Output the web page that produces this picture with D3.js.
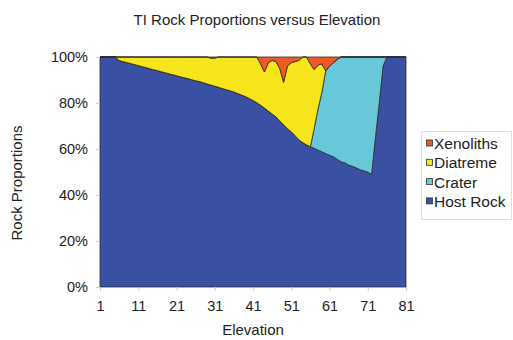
<!DOCTYPE html>
<html>
<head>
<meta charset="utf-8">
<script src="https://cdn.jsdelivr.net/npm/d3@7"></script>
<style>
  html, body { margin: 0; padding: 0; background: #fff; }
  svg { display: block; font-family: "Liberation Sans", Arial, sans-serif; }
</style>
</head>
<body>
<svg id="chart" width="513" height="340"></svg>
<script>
// Elevation steps (categories) 1..81
const elevations = [
  1, 2, 3, 4, 5, 6, 7, 8, 9, 10, 11, 12, 13, 14, 15, 16, 17, 18, 19, 20,
  21, 22, 23, 24, 25, 26, 27, 28, 29, 30, 31, 32, 33, 34, 35, 36, 37, 38, 39, 40,
  41, 42, 43, 44, 45, 46, 47, 48, 49, 50, 51, 52, 53, 54, 55, 56, 57, 58, 59, 60,
  61, 62, 63, 64, 65, 66, 67, 68, 69, 70, 71, 72, 73, 74, 75, 76, 77, 78, 79, 80, 81
];

// Percentage of each rock type at every elevation
const hostRock = [
  100, 100, 100, 100, 100, 98.5, 98.0, 97.6, 97.2, 96.7,
  96.3, 95.8, 95.4, 94.9, 94.5, 94.1, 93.6, 93.2, 92.7, 92.3,
  91.9, 91.4, 91.0, 90.6, 90.1, 89.7, 89.3, 88.8, 88.3, 87.8,
  87.3, 86.8, 86.3, 85.8, 85.3, 84.8, 84.1, 83.5, 82.8, 82.0,
  81.1, 80.1, 79.0, 77.8, 76.5, 75.2, 74.0, 72.2, 70.5, 68.8,
  67.5, 65.8, 64.0, 62.8, 61.8, 61.0, 60.3, 59.5, 58.8, 58.0,
  57.3, 56.7, 55.5, 54.5, 54.0, 53.0, 52.5, 51.8, 51.0, 50.5,
  50.0, 49.0, 65.0, 80.0, 96.0, 100, 100, 100, 100, 100, 100
];
const crater = [
  0, 0, 0, 0, 0, 0, 0, 0, 0, 0,
  0, 0, 0, 0, 0, 0, 0, 0, 0, 0,
  0, 0, 0, 0, 0, 0, 0, 0, 0, 0,
  0, 0, 0, 0, 0, 0, 0, 0, 0, 0,
  0, 0, 0, 0, 0, 0, 0, 0, 0, 0,
  0, 0, 0, 0, 0, 0, 8.7, 17.9, 25.8, 36.0,
  38.7, 40.8, 43.5, 45.5, 46.0, 47.0, 47.5, 48.2, 49.0, 49.5,
  50.0, 51.0, 35.0, 20.0, 4.0, 0, 0, 0, 0, 0, 0
];
const diatreme = [
  0, 0, 0, 0, 0, 1.5, 2.0, 2.4, 2.8, 3.3,
  3.7, 4.2, 4.6, 5.1, 5.5, 5.9, 6.4, 6.8, 7.3, 7.7,
  8.1, 8.6, 9.0, 9.4, 9.9, 10.3, 10.7, 11.2, 11.7, 11.7,
  12.2, 13.2, 13.7, 14.2, 14.7, 15.2, 15.9, 16.5, 17.2, 18.0,
  18.9, 19.9, 18.0, 15.7, 21.0, 23.3, 24.0, 22.8, 18.5, 27.2,
  30.0, 32.2, 34.5, 37.2, 38.2, 36.0, 25.5, 19.1, 12.4, 0,
  0, 0, 0, 0, 0, 0, 0, 0, 0, 0,
  0, 0, 0, 0, 0, 0, 0, 0, 0, 0, 0
];
const xenoliths = [
  0, 0, 0, 0, 0, 0, 0, 0, 0, 0,
  0, 0, 0, 0, 0, 0, 0, 0, 0, 0,
  0, 0, 0, 0, 0, 0, 0, 0, 0, 0.5,
  0.5, 0, 0, 0, 0, 0, 0, 0, 0, 0,
  0, 0, 3.0, 6.5, 2.5, 1.5, 2.0, 5.0, 11.0, 4.0,
  2.5, 2.0, 1.5, 0, 0, 3.0, 5.5, 3.5, 3.0, 6.0,
  4.0, 2.5, 1.0, 0, 0, 0, 0, 0, 0, 0,
  0, 0, 0, 0, 0, 0, 0, 0, 0, 0, 0
];

const xTickLabels = [1, 11, 21, 31, 41, 51, 61, 71, 81];
const yTickValues = [0, 0.2, 0.4, 0.6, 0.8, 1.0];

const seriesNames = ["Host Rock", "Crater", "Diatreme", "Xenoliths"];
const seriesColors = ["#3a51a3", "#68c8d9", "#f7e51c", "#ef5a24"];

// Build rows for the stack layout
const rows = elevations.map((e, i) => ({
  elevation: e,
  "Host Rock": hostRock[i],
  "Crater": crater[i],
  "Diatreme": diatreme[i],
  "Xenoliths": xenoliths[i]
}));

const svg = d3.select("#chart");
const plot = { left: 100, right: 406, top: 57, bottom: 287 };

const x = d3.scaleLinear().domain([1, 81]).range([plot.left, plot.right]);
const y = d3.scaleLinear().domain([0, 1]).range([plot.bottom, plot.top]);

const stack = d3.stack().keys(seriesNames).offset(d3.stackOffsetExpand);
const layers = stack(rows);

const area = d3.area()
  .x(d => x(d.data.elevation))
  .y0(d => y(d[0]))
  .y1(d => y(d[1]));

svg.append("g")
  .selectAll("path")
  .data(layers)
  .join("path")
  .attr("d", area)
  .attr("fill", (d, i) => seriesColors[i])
  .attr("stroke", "#2b2b2b")
  .attr("stroke-width", 0.8)
  .attr("stroke-linejoin", "round");

// Axes
const xAxis = d3.axisBottom(x)
  .tickValues(xTickLabels)
  .tickSize(4)
  .tickPadding(10)
  .tickFormat(d3.format("d"));
const gx = svg.append("g")
  .attr("transform", `translate(0,${plot.bottom})`)
  .call(xAxis);
gx.select(".domain").remove();
gx.selectAll(".tick line").attr("stroke", "#d0d0d0");
gx.selectAll(".tick text")
  .attr("font-size", 14.5)
  .attr("font-family", "Liberation Sans, Arial, sans-serif")
  .attr("fill", "#222");

const yAxis = d3.axisLeft(y)
  .tickValues(yTickValues)
  .tickSize(4)
  .tickPadding(8)
  .tickFormat(d3.format(".0%"));
const gy = svg.append("g")
  .attr("transform", `translate(${plot.left},0)`)
  .call(yAxis);
gy.select(".domain").remove();
gy.selectAll(".tick line").attr("stroke", "#d0d0d0");
gy.selectAll(".tick text")
  .attr("font-size", 14.5)
  .attr("font-family", "Liberation Sans, Arial, sans-serif")
  .attr("fill", "#222");

// Titles
svg.append("text")
  .attr("x", 257)
  .attr("y", 25)
  .attr("text-anchor", "middle")
  .attr("font-size", 15)
  .attr("fill", "#222")
  .text("TI Rock Proportions versus Elevation");

svg.append("text")
  .attr("x", 253)
  .attr("y", 335)
  .attr("text-anchor", "middle")
  .attr("font-size", 15)
  .attr("fill", "#222")
  .text("Elevation");

svg.append("text")
  .attr("transform", "translate(22,183) rotate(-90)")
  .attr("text-anchor", "middle")
  .attr("font-size", 15)
  .attr("fill", "#222")
  .text("Rock Proportions");

// Legend (top entry is the top layer)
const legend = svg.append("g");
legend.append("rect")
  .attr("x", 421.5).attr("y", 131.5)
  .attr("width", 90).attr("height", 88)
  .attr("fill", "#fff")
  .attr("stroke", "#e0e0e0");

const legendItems = seriesNames.map((n, i) => ({ name: n, color: seriesColors[i] })).reverse();
const li = legend.selectAll("g.item")
  .data(legendItems)
  .join("g")
  .attr("class", "item")
  .attr("transform", (d, i) => `translate(426,${143.5 + i * 19.3})`);
li.append("rect")
  .attr("x", 0.5).attr("y", -3.5)
  .attr("width", 6).attr("height", 6)
  .attr("fill", d => d.color)
  .attr("stroke", "#333")
  .attr("stroke-width", 0.8);
li.append("text")
  .attr("x", 8)
  .attr("y", 0)
  .attr("dy", "0.36em")
  .attr("font-size", 15.5)
  .attr("fill", "#222")
  .text(d => d.name);
</script>
</body>
</html>
